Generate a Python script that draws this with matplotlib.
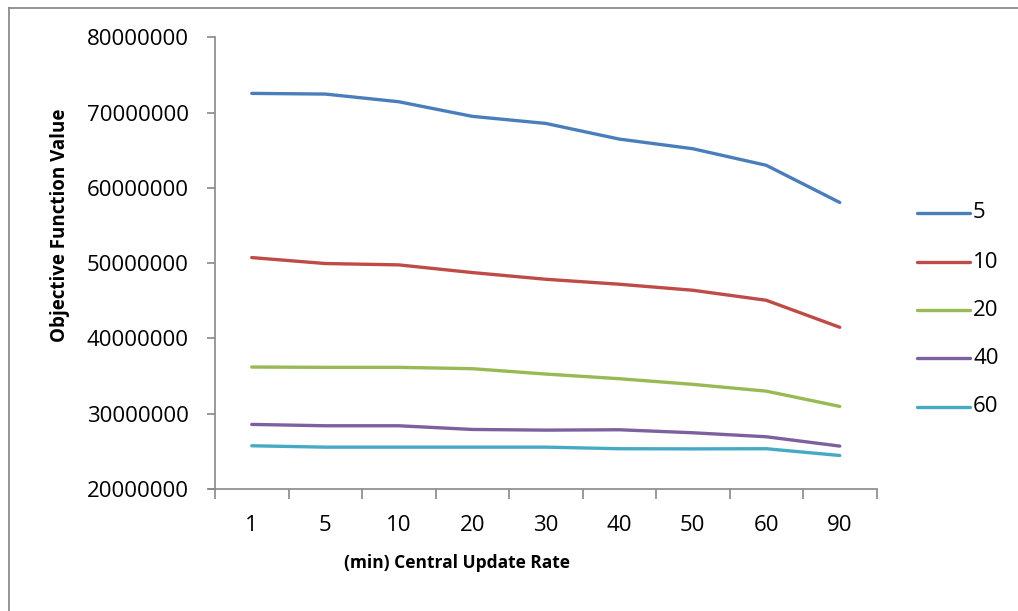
import matplotlib
matplotlib.use("Agg")
import matplotlib.pyplot as plt
from matplotlib.lines import Line2D
from matplotlib import font_manager

categories = ["1", "5", "10", "20", "30", "40", "50", "60", "90"]
series_names = ["5", "10", "20", "40", "60"]
s5 = [72550000, 72460000, 71440000, 69500000, 68560000, 66480000, 65200000, 63000000, 58060000]
s10 = [50740000, 49950000, 49770000, 48750000, 47860000, 47200000, 46400000, 45070000, 41480000]
s20 = [36200000, 36160000, 36160000, 35980000, 35270000, 34650000, 33900000, 33000000, 30970000]
s40 = [28580000, 28400000, 28400000, 27910000, 27820000, 27870000, 27470000, 26940000, 25700000]
s60 = [25740000, 25560000, 25560000, 25560000, 25560000, 25350000, 25330000, 25350000, 24450000]
y_ticks = [20000000, 30000000, 40000000, 50000000, 60000000, 70000000, 80000000]

colors = ["#4A7EBB", "#BE4B48", "#98B954", "#7D60A0", "#46AAC5"]
axis_gray = "#898989"

plt.rcParams['font.family'] = ['Open Sans', 'DejaVu Sans']
names = {f.name for f in font_manager.fontManager.ttflist}
label_family = ['Liberation Sans Narrow'] if 'Liberation Sans Narrow' in names else ['Open Sans']
narrow = 'Liberation Sans Narrow' in names

fig = plt.figure(figsize=(10.18, 6.11), dpi=100)
W, H = 1018, 611
ax = fig.add_axes([215 / W, 1 - 489 / H, (876.5 - 215) / W, (489 - 37.3) / H])

x = list(range(len(categories)))
all_series = [s5, s10, s20, s40, s60]
for vals, name, c in zip(all_series, series_names, colors):
    ax.plot(x, vals, color=c, lw=2.4, solid_capstyle='round', solid_joinstyle='round', label=name)

TFS = 16
ax.set_xlim(-0.5, len(categories) - 0.5)
ax.set_ylim(20000000, 80000000)
ax.set_yticks(y_ticks)
ax.set_yticklabels([str(v) for v in y_ticks], fontsize=TFS)
ax.set_xticks(x)
ax.set_xticklabels(categories, fontsize=TFS)
ax.set_xticks([i - 0.5 for i in range(len(categories) + 1)], minor=True)
ax.tick_params(axis='x', which='major', length=0, pad=19)
ax.tick_params(axis='x', which='minor', length=7, width=1.2, color=axis_gray, direction='out')
ax.tick_params(axis='y', which='major', length=6, width=1.2, color=axis_gray, direction='out', pad=13)

for side in ['top', 'right']:
    ax.spines[side].set_visible(False)
for side in ['left', 'bottom']:
    ax.spines[side].set_color(axis_gray)
    ax.spines[side].set_linewidth(1.2)
ax.spines['bottom'].set_bounds(-0.5 - 6 / 73.5, len(categories) - 0.5)

xl_fs = 15 if narrow else 12.5
yl_fs = 15.5 if narrow else 13.5
ax.set_xlabel("(min) Central Update Rate", fontsize=xl_fs, fontweight='bold', family=label_family)
ax.set_ylabel("Objective Function Value", fontsize=yl_fs, fontweight='bold', family=label_family)
ax.yaxis.set_label_coords((70 - 215) / (876.5 - 215), (489 - 225) / (489 - 37.3))
ax.xaxis.set_label_coords((457 - 215) / (876.5 - 215), -(554 - 489) / (489 - 37.3))

# legend
leg_y = [213, 262, 310, 358, 407]
for name, c, yy in zip(series_names, colors, leg_y):
    fig.add_artist(Line2D([917 / W, 970 / W], [1 - yy / H, 1 - yy / H], color=c, lw=2.4,
                          solid_capstyle='round', transform=fig.transFigure))
    fig.text(973 / W, 1 - yy / H, name, fontsize=TFS, va='center', ha='left')

# outer chart border (top and left visible)
fig.add_artist(Line2D([9 / W, 1.0], [1 - 7.5 / H, 1 - 7.5 / H], color="#8c8c8c", lw=1.3, transform=fig.transFigure))
fig.add_artist(Line2D([9 / W, 9 / W], [1 - 7.5 / H, 0.0], color="#8c8c8c", lw=1.3, transform=fig.transFigure))

fig.savefig("out.png", dpi=100)
